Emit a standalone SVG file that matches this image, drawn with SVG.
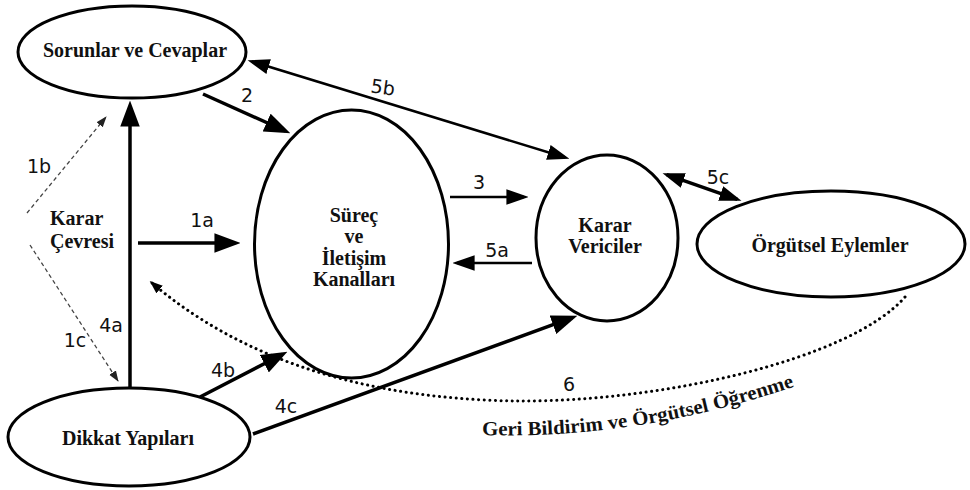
<svg xmlns="http://www.w3.org/2000/svg" width="970" height="490" viewBox="0 0 970 490">
<defs>
<style>
.node{fill:#fff;stroke:#000;stroke-width:3}
.nt{font-weight:bold;font-size:20px;fill:#111}
.lb{font-size:19px;fill:#111}
.thick{fill:none;stroke:#000;stroke-width:3.5}
.mid{fill:none;stroke:#000;stroke-width:2.5}
.dash{fill:none;stroke:#444;stroke-width:1.3;stroke-dasharray:4 3}
.dot{fill:none;stroke:#000;stroke-width:3;stroke-linecap:round;stroke-dasharray:0.1 5.5}
</style>
<marker id="big" markerUnits="userSpaceOnUse" markerWidth="26" markerHeight="20" refX="19" refY="9" orient="auto-start-reverse" viewBox="0 0 24 18">
<path d="M0,0 L24,9 L0,18 z" fill="#000"/>
</marker>
<marker id="med" markerUnits="userSpaceOnUse" markerWidth="22" markerHeight="16" refX="16" refY="7" orient="auto-start-reverse" viewBox="0 0 20 14">
<path d="M0,0 L20,7 L0,14 z" fill="#000"/>
</marker>
<marker id="sm" markerUnits="userSpaceOnUse" markerWidth="11" markerHeight="9" refX="10" refY="4" orient="auto" viewBox="0 0 11 8">
<path d="M0,0 L11,4 L0,8 z" fill="#222"/>
</marker>
<marker id="dotm" markerUnits="userSpaceOnUse" markerWidth="13" markerHeight="11" refX="10" refY="5" orient="auto" viewBox="0 0 13 10">
<path d="M0,0 L13,5 L0,10 z" fill="#000"/>
</marker>
<path id="tp" d="M 482 435 Q 640 440 802 384"/>
</defs>
<rect width="970" height="490" fill="#fff"/>

<g id="connectors">
<line class="thick" x1="130" y1="388" x2="130" y2="106" marker-end="url(#big)"/>
<line class="thick" x1="138" y1="243" x2="235" y2="243" marker-end="url(#big)"/>
<line class="thick" x1="203" y1="94" x2="285.4" y2="131" marker-end="url(#big)"/>
<line class="mid" x1="251.8" y1="61.5" x2="565.2" y2="157.5" marker-start="url(#med)" marker-end="url(#med)"/>
<line class="mid" x1="450" y1="197" x2="524" y2="197" marker-end="url(#med)"/>
<line class="mid" x1="532" y1="263" x2="457" y2="263" marker-end="url(#med)"/>
<line class="thick" x1="666.7" y1="174.7" x2="737.3" y2="199.3" marker-start="url(#med)" marker-end="url(#med)"/>
<line class="thick" x1="200" y1="397" x2="282.6" y2="354.3" marker-end="url(#big)"/>
<line class="thick" x1="253" y1="434" x2="572.3" y2="317.7" marker-end="url(#big)"/>
<line class="dash" x1="27" y1="213" x2="106" y2="117" marker-end="url(#sm)"/>
<line class="dash" x1="30" y1="245" x2="118" y2="381" marker-end="url(#sm)"/>
<path class="dot" d="M 905 297 C 850 360 660 402 520 401 C 400 400 260 375 152 283" marker-end="url(#dotm)"/>
</g>

<g id="labels" font-family="'DejaVu Sans', 'Open Sans', sans-serif">
<text class="lb" x="247" y="102" text-anchor="middle">2</text>
<text class="lb" x="27" y="173">1b</text>
<text class="lb" font-size="21" x="383" y="94" text-anchor="middle" transform="rotate(8 383 87)">5b</text>
<text class="lb" x="479" y="189" text-anchor="middle">3</text>
<text class="lb" x="497" y="257" text-anchor="middle">5a</text>
<text class="lb" font-size="21" x="718" y="184" text-anchor="middle">5c</text>
<text class="lb" x="202" y="227" text-anchor="middle">1a</text>
<text class="lb" x="111" y="332" text-anchor="middle">4a</text>
<text class="lb" x="75" y="347" text-anchor="middle">1c</text>
<text class="lb" x="223" y="377" text-anchor="middle">4b</text>
<text class="lb" x="286" y="413" text-anchor="middle">4c</text>
<text class="lb" x="569" y="391" text-anchor="middle">6</text>
</g>

<g id="feedback-label" font-family="'Liberation Serif', 'Times New Roman', 'DejaVu Serif', serif">
<text class="nt" font-size="19"><textPath href="#tp" textLength="318" lengthAdjust="spacingAndGlyphs">Geri Bildirim ve Örgütsel Öğrenme</textPath></text>
</g>

<g id="env" font-family="'Liberation Serif', 'Times New Roman', 'DejaVu Serif', serif">
<text class="nt" x="50" y="225">Karar</text>
<text class="nt" x="50" y="248">Çevresi</text>
</g>

<g id="sorunlar" font-family="'Liberation Serif', 'Times New Roman', 'DejaVu Serif', serif">
<ellipse class="node" cx="132" cy="52" rx="114" ry="46"/>
<text class="nt" x="135" y="57" text-anchor="middle">Sorunlar ve Cevaplar</text>
</g>

<g id="surec" font-family="'Liberation Serif', 'Times New Roman', 'DejaVu Serif', serif">
<ellipse class="node" cx="351.5" cy="244" rx="97" ry="134"/>
<text class="nt" x="354" y="222" text-anchor="middle">Süreç</text>
<text class="nt" x="354" y="243" text-anchor="middle">ve</text>
<text class="nt" x="354" y="265" text-anchor="middle">İletişim</text>
<text class="nt" x="354" y="286" text-anchor="middle">Kanalları</text>
</g>

<g id="karar" font-family="'Liberation Serif', 'Times New Roman', 'DejaVu Serif', serif">
<ellipse class="node" cx="607" cy="238" rx="71" ry="83"/>
<text class="nt" x="605" y="232" text-anchor="middle">Karar</text>
<text class="nt" x="605" y="253" text-anchor="middle">Vericiler</text>
</g>

<g id="orgutsel" font-family="'Liberation Serif', 'Times New Roman', 'DejaVu Serif', serif">
<ellipse class="node" cx="831" cy="244" rx="134" ry="53"/>
<text class="nt" x="830" y="252" text-anchor="middle">Örgütsel Eylemler</text>
</g>

<g id="dikkat" font-family="'Liberation Serif', 'Times New Roman', 'DejaVu Serif', serif">
<ellipse class="node" cx="129" cy="437" rx="121" ry="49"/>
<text class="nt" x="128" y="445" text-anchor="middle">Dikkat Yapıları</text>
</g>
</svg>
